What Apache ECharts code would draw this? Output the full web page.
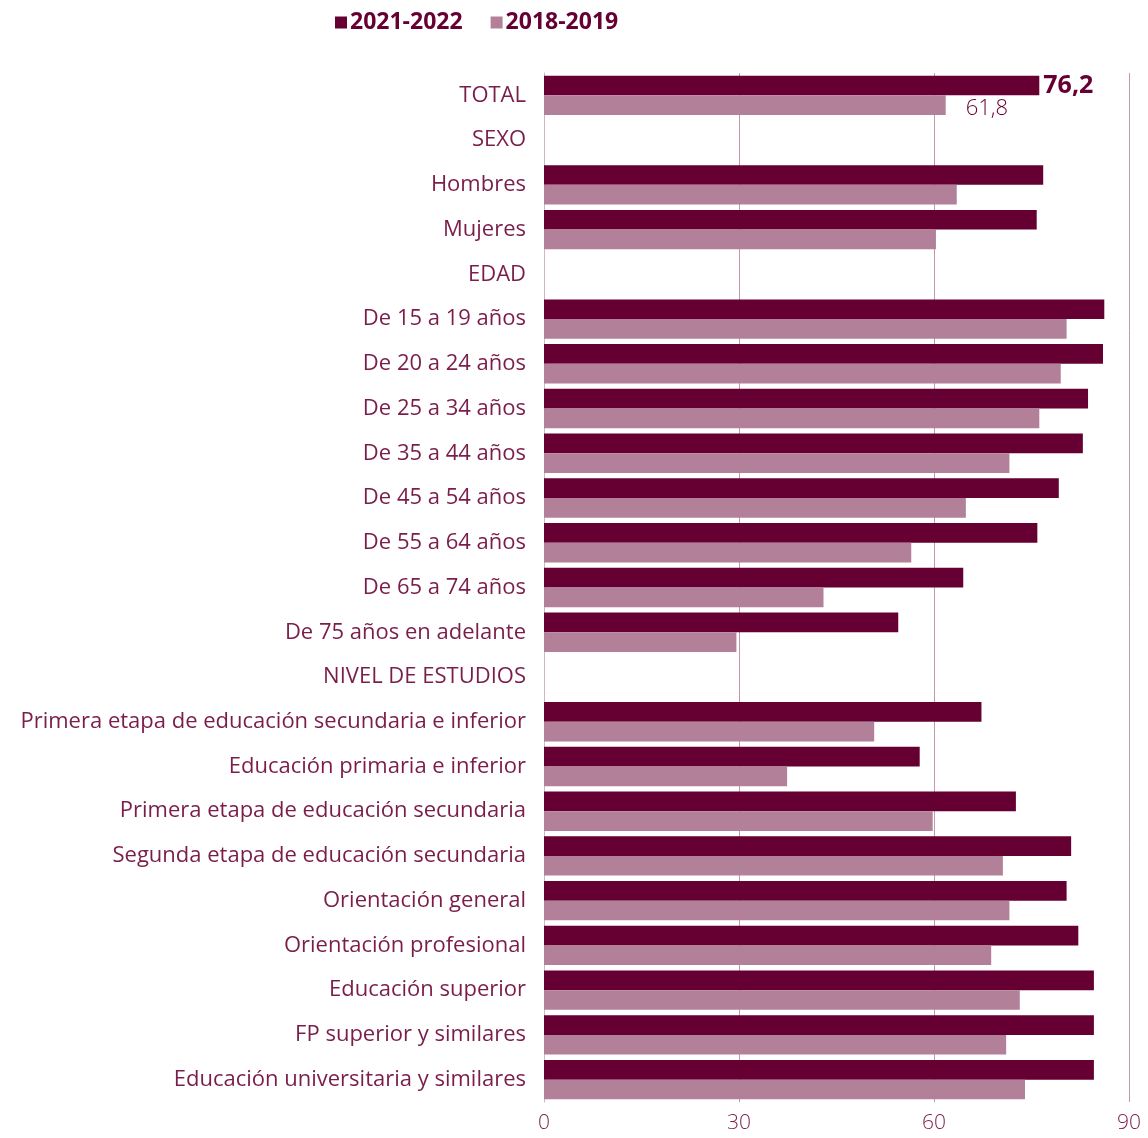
<!DOCTYPE html>
<html>
<head>
<meta charset="utf-8">
<script src="https://cdn.jsdelivr.net/npm/echarts@6/dist/echarts.min.js"></script>
<style>
html,body{margin:0;padding:0;background:#fff;}
#chart{width:1148px;height:1138px;}
</style>
</head>
<body>
<div id="chart"></div>
<script>
var categorias = ['TOTAL','SEXO','Hombres','Mujeres','EDAD','De 15 a 19 años','De 20 a 24 años','De 25 a 34 años','De 35 a 44 años','De 45 a 54 años','De 55 a 64 años','De 65 a 74 años','De 75 años en adelante','NIVEL DE ESTUDIOS','Primera etapa de educación secundaria e inferior','Educación primaria e inferior','Primera etapa de educación secundaria','Segunda etapa de educación secundaria','Orientación general','Orientación profesional','Educación superior','FP superior y similares','Educación universitaria y similares'];
var serie2122 = [76.2,null,76.8,75.8,null,86.2,86.0,83.7,82.9,79.2,75.9,64.5,54.5,null,67.3,57.8,72.6,81.1,80.4,82.2,84.6,84.6,84.6];
var serie1819 = [61.8,null,63.5,60.3,null,80.4,79.5,76.2,71.6,64.9,56.5,43.0,29.6,null,50.8,37.4,59.8,70.6,71.6,68.8,73.2,71.1,74.0];
var ticksX = [0,30,60,90];

var chart = echarts.init(document.getElementById('chart'));
var textColor = '#7a1d4a';
var fuente = 'Open Sans';

var option = {
	animation:false,
	legend:{
		top:6,
		left:330,
		itemWidth:12,
		itemHeight:12,
		itemGap:28,
		icon:'rect',
		textStyle:{
			color:'#660033',
			fontWeight:'bold',
			fontSize:23,
			fontFamily:fuente,
			padding:[0,0,0,-2]
		},
		data:['2021-2022','2018-2019']
	},
	grid:{
		left:544,
		right:19,
		top:73,
		bottom:36,
		containLabel:false
	},
	xAxis:{
		type:'value',
		min:ticksX[0],
		max:ticksX[ticksX.length-1],
		interval:30,
		axisLine:{show:false},
		axisTick:{show:false},
		splitLine:{
			lineStyle:{color:'#c796ad',width:1}
		},
		axisLabel:{
			color:textColor,
			fontSize:21,
			fontWeight:300,
			fontFamily:fuente,
			margin:11
		}
	},
	yAxis:{
		type:'category',
		inverse:true,
		data:categorias,
		axisLine:{lineStyle:{color:'#d7b3c4'}},
		axisTick:{show:false},
		axisLabel:{
			color:textColor,
			fontSize:22,
			fontFamily:fuente,
			margin:18
		}
	},
	series:[
		{
			name:'2021-2022',
			type:'bar',
			data:serie2122,
			barGap:'0%',
			barCategoryGap:'12%',
			itemStyle:{color:'#660033'},
			label:{
				show:true,
				position:'right',
				distance:4,
				color:'#660033',
				fontWeight:'bold',
				fontSize:25,
				fontFamily:fuente,
				formatter:function(p){
					return p.dataIndex===0 ? String(p.value).replace('.',',') : '';
				}
			}
		},
		{
			name:'2018-2019',
			type:'bar',
			data:serie1819,
			itemStyle:{color:'#b38099'},
			label:{
				show:true,
				position:'right',
				distance:20,
				offset:[0,4],
				color:'#660033',
				fontSize:22,
				fontWeight:300,
				fontFamily:fuente,
				formatter:function(p){
					return p.dataIndex===0 ? String(p.value).replace('.',',') : '';
				}
			}
		}
	]
};
chart.setOption(option);
</script>
</body>
</html>
